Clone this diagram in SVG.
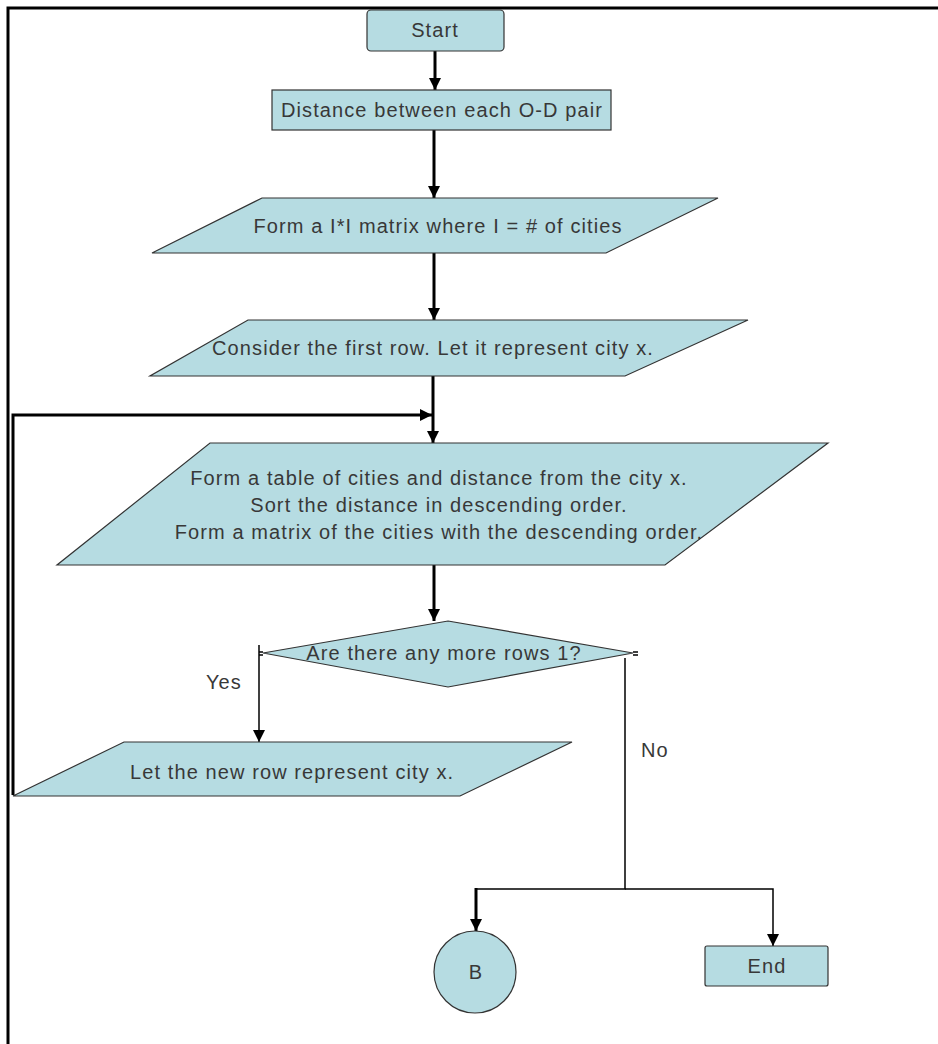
<svg xmlns="http://www.w3.org/2000/svg" width="938" height="1044" viewBox="0 0 938 1044">
<style>
.shape{fill:#b6dce2;stroke:#333;stroke-width:1.2}
.t{font-family:"Liberation Sans",Arial,sans-serif;font-size:20px;letter-spacing:1.1px;fill:#383838}
.c{text-anchor:middle}
.thick{stroke:#000;stroke-width:3;fill:none}
.thin{stroke:#000;stroke-width:1.5;fill:none}
</style>
<defs>
<marker id="ah" viewBox="0 0 10 10" refX="10" refY="5" markerWidth="4" markerHeight="4" orient="auto" markerUnits="strokeWidth">
<path d="M0,0 L10,5 L0,10 z" fill="#000"/>
</marker>
<marker id="ahs" viewBox="0 0 10 10" refX="10" refY="5" markerWidth="8" markerHeight="8" orient="auto" markerUnits="strokeWidth">
<path d="M0,0 L10,5 L0,10 z" fill="#000"/>
</marker>
</defs>
<rect width="938" height="1044" fill="#fff"/>
<g id="frame" stroke="#000" stroke-width="3" fill="none">
<path d="M8,1044 L8,8 L938,8"/>
</g>
<g id="connectors">
<line class="thick" x1="435" y1="51" x2="435" y2="90" marker-end="url(#ah)"/>
<line class="thick" x1="434" y1="130" x2="434" y2="198" marker-end="url(#ah)"/>
<line class="thick" x1="434" y1="253" x2="434" y2="320" marker-end="url(#ah)"/>
<line class="thick" x1="433" y1="376" x2="433" y2="443" marker-end="url(#ah)"/>
<polyline class="thick" points="13,795 13,415 432,415" marker-end="url(#ah)"/>
<line class="thick" x1="434" y1="565" x2="434" y2="621" marker-end="url(#ah)"/>
<line class="thin" x1="259" y1="652" x2="263" y2="652"/>
<line class="thin" x1="259" y1="655" x2="263" y2="655"/>
<line class="thin" x1="259" y1="645" x2="259" y2="742" marker-end="url(#ahs)"/>
<line class="thin" x1="633" y1="652" x2="638" y2="652"/>
<line class="thin" x1="633" y1="655" x2="638" y2="655"/>
<polyline class="thin" points="625,658 625,889 476,889"/>
<line class="thick" x1="476" y1="888" x2="476" y2="931" marker-end="url(#ah)"/>
<polyline class="thin" points="625,889 773,889 773,946" marker-end="url(#ahs)"/>
<text class="t" x="206" y="689">Yes</text>
<text class="t" x="641" y="757">No</text>
</g>
<g id="start">
<rect class="shape" x="367" y="10" width="137" height="41" rx="4"/>
<text class="t c" x="435" y="37">Start</text>
</g>
<g id="distance">
<rect class="shape" x="272" y="90" width="339" height="40"/>
<text class="t c" x="442" y="117">Distance between each O-D pair</text>
</g>
<g id="matrix">
<polygon class="shape" points="262,198 718,198 606,253 152,253"/>
<text class="t c" x="438" y="233">Form a I*I matrix where I = # of cities</text>
</g>
<g id="consider">
<polygon class="shape" points="248,320 748,320 625,376 150,376"/>
<text class="t c" x="433" y="355">Consider the first row. Let it represent city x.</text>
</g>
<g id="table">
<polygon class="shape" points="210,443 828,443 665,565 57,565"/>
<text class="t c" x="439" y="485">Form a table of cities and distance from the city x.</text>
<text class="t c" x="439" y="512">Sort the distance in descending order.</text>
<text class="t c" x="439" y="539">Form a matrix of the cities with the descending order.</text>
</g>
<g id="decision">
<polygon class="shape" points="448,621 633,653 448,687 263,653"/>
<text class="t c" x="444" y="660">Are there any more rows 1?</text>
</g>
<g id="newrow">
<polygon class="shape" points="124,742 572,742 460,796 13,796"/>
<text class="t" x="130" y="779">Let the new row represent city x.</text>
</g>
<g id="b">
<circle class="shape" cx="475" cy="972" r="41"/>
<text class="t c" x="476" y="979">B</text>
</g>
<g id="end">
<rect class="shape" x="705" y="946" width="123" height="40" rx="2"/>
<text class="t c" x="767" y="973">End</text>
</g>
</svg>
